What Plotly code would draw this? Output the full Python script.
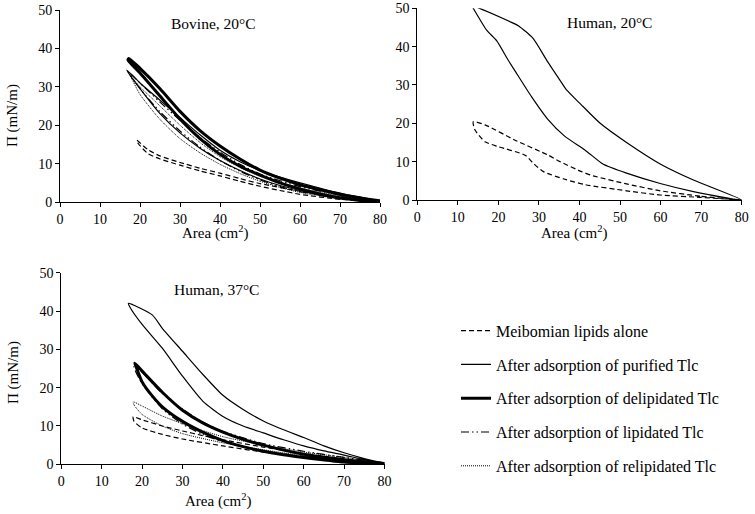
import plotly.graph_objects as go

W, H = 755, 514
FONT = "Liberation Serif, Times New Roman, Times, serif"

# ---------------- Data (area cm^2, surface pressure mN/m), each loop: compression then expansion
# Bovine, 20°C
BOV_MEIB_A = [80, 70, 60, 50, 45, 40, 35, 30, 25, 22, 19.2, 19.5, 22, 25, 30, 35, 40, 45, 50, 55, 60, 70, 80]
BOV_MEIB_P = [0.2, 1.2, 2.8, 4.8, 6.1, 7.5, 8.8, 10.3, 12.0, 13.6, 16.1, 15.3, 12.6, 11.2, 9.6, 8.1, 6.8, 5.4, 4.1, 3.0, 2.0, 0.7, 0.1]
BOV_PUR_A = [80, 70, 60, 55, 50, 45, 40, 35, 30, 25, 20, 16.7, 17, 20, 25, 30, 35, 40, 45, 50, 55, 60, 65, 70, 75, 80]
BOV_PUR_P = [0.3, 2.3, 5.0, 6.5, 8.2, 10.5, 13.5, 17.5, 22.0, 26.5, 31.0, 34.4, 33.8, 29.5, 23.0, 18.0, 14.0, 10.8, 8.2, 6.0, 4.3, 3.0, 1.8, 1.0, 0.4, 0.1]
BOV_DEL_A = [80, 72, 65, 60, 55, 50, 45, 40, 35, 30, 25, 20, 17.2, 17, 20, 25, 30, 35, 40, 45, 50, 55, 60, 65, 70, 75, 80]
BOV_DEL_P = [0.3, 1.6, 3.2, 4.5, 6.2, 8.3, 11.2, 14.6, 18.6, 23.6, 29.5, 34.8, 37.4, 37.0, 33.6, 27.6, 21.6, 16.5, 12.4, 9.3, 7.0, 5.0, 3.4, 2.1, 1.1, 0.4, 0.1]
BOV_LIP_A = [80, 70, 60, 50, 45, 40, 35, 30, 25, 20, 17.5, 18, 20, 25, 30, 35, 40, 45, 50, 55, 60, 70, 80]
BOV_LIP_P = [0.3, 1.8, 4.0, 7.3, 9.8, 13.0, 16.8, 21.3, 26.0, 31.0, 33.5, 32.5, 29.5, 23.5, 18.5, 14.3, 10.8, 8.0, 5.8, 4.0, 2.7, 0.9, 0.1]
BOV_REL_A = [80, 70, 60, 50, 45, 40, 35, 30, 25, 20, 17.5, 18, 20, 25, 30, 35, 40, 45, 50, 55, 60, 70, 80]
BOV_REL_P = [0.2, 1.5, 3.6, 6.7, 9.0, 11.8, 15.5, 20.0, 25.0, 30.0, 33.0, 32.0, 28.0, 21.5, 16.5, 12.8, 9.8, 7.4, 5.4, 3.8, 2.5, 0.8, 0.1]

# Human, 20°C
H20_MEIB_A = [80, 69.7, 59.9, 51.6, 43.4, 40.5, 35.2, 32.3, 24.1, 16.7, 13.8, 14.2, 16.7, 20.0, 26.6, 28.6, 31.1, 36.4, 41.4, 51.6, 59.9, 69.7, 80]
H20_MEIB_P = [0.0, 1.0, 2.4, 4.2, 6.3, 7.4, 10.0, 11.7, 15.6, 19.6, 20.4, 18.3, 15.2, 13.9, 11.7, 9.6, 7.4, 5.4, 4.0, 2.4, 1.3, 0.7, 0.0]
H20_PUR_A = [80, 68.1, 59.9, 51.6, 45.1, 40.1, 36.8, 35.2, 32.0, 28.5, 25.0, 22.9, 13.4,
             13.8, 17.1, 19.6, 22.4, 24.5, 28.2, 32.3, 36.4, 41.4, 45.9, 51.6, 59.9, 68.1, 80]
H20_PUR_P = [0.0, 5.2, 9.4, 15.0, 20.0, 25.2, 28.7, 31.2, 36.3, 42.2, 45.4, 46.5, 50.7,
             50.0, 44.3, 41.5, 36.5, 33.0, 26.9, 20.9, 16.6, 13.0, 9.3, 7.0, 4.3, 2.2, 0.0]

# Human, 37°C
H37_MEIB_A = [80, 70, 60, 50, 40, 35, 30, 25, 20, 17.8, 18, 20, 25, 30, 40, 50, 60, 70, 80]
H37_MEIB_P = [0.3, 1.4, 2.8, 4.5, 6.4, 7.5, 8.7, 10.0, 11.6, 12.4, 11.2, 9.5, 7.8, 6.6, 4.8, 3.2, 2.0, 0.8, 0.1]
H37_PUR_A = [80, 75, 70, 65, 60, 55, 50, 45, 40, 35, 30, 25, 22.5, 16.6, 17, 20, 25, 30, 35, 40, 45, 50, 55, 60, 65, 70, 75, 80]
H37_PUR_P = [0.3, 1.5, 3.0, 4.8, 7.0, 9.0, 11.3, 14.3, 18.0, 23.5, 29.5, 35.5, 39.0, 42.0, 41.0, 36.5, 30.3, 23.0, 16.5, 12.5, 10.0, 8.2, 6.4, 4.8, 3.5, 2.4, 1.2, 0.2]
H37_DEL_A = [80, 70, 60, 50, 45, 40, 35, 30, 25, 21, 18.2, 18.5, 20, 22, 25, 30, 35, 40, 45, 50, 55, 60, 70, 80]
H37_DEL_P = [0.2, 1.2, 2.6, 5.0, 6.5, 8.4, 10.8, 14.1, 18.8, 23.2, 26.4, 25.5, 21.5, 18.5, 15.0, 11.2, 8.4, 6.2, 4.6, 3.4, 2.5, 1.8, 0.6, 0.1]
H37_LIP_A = [80, 70, 60, 50, 40, 35, 30, 25, 20, 18, 18.3, 20, 25, 30, 35, 40, 50, 60, 70, 80]
H37_LIP_P = [0.4, 1.8, 3.4, 5.4, 8.6, 11.0, 14.4, 18.5, 24.0, 25.5, 24.5, 21.0, 14.5, 10.5, 7.8, 5.9, 3.5, 2.0, 0.9, 0.1]
H37_REL_A = [80, 70, 60, 50, 40, 35, 30, 25, 20, 17.8, 18, 20, 25, 30, 40, 50, 60, 70, 80]
H37_REL_P = [0.3, 1.8, 3.2, 5.0, 7.2, 8.8, 10.6, 12.6, 15.2, 16.3, 15.5, 13.0, 10.0, 8.0, 5.6, 3.8, 2.2, 0.9, 0.1]

SERIES_NAMES = ["Meibomian lipids alone", "After adsorption of purified Tlc",
                "After adsorption of delipidated Tlc", "After adsorption of lipidated Tlc",
                "After adsorption of relipidated Tlc"]
PANEL_TITLES = ["Bovine, 20°C", "Human, 20°C", "Human, 37°C"]
X_TITLE = "Area (cm<sup>2</sup>)"
Y_TITLE = "Π (mN/m)"
X_TICKS = [0, 10, 20, 30, 40, 50, 60, 70, 80]
Y_TICKS = [0, 10, 20, 30, 40, 50]

# ---------------- Styles
STYLE = {
    SERIES_NAMES[0]: dict(width=1.2, dash="5px,3px"),
    SERIES_NAMES[1]: dict(width=1.2, dash="solid"),
    SERIES_NAMES[2]: dict(width=3.0, dash="solid"),
    SERIES_NAMES[3]: dict(width=1.2, dash="8px,3px,1.5px,3px,1.5px,3px"),
    SERIES_NAMES[4]: dict(width=1.0, dash="1px,1px"),
}

fig = go.Figure()

panels = [
    ("x", "y", [(BOV_MEIB_A, BOV_MEIB_P, 0), (BOV_REL_A, BOV_REL_P, 4), (BOV_LIP_A, BOV_LIP_P, 3),
                (BOV_PUR_A, BOV_PUR_P, 1), (BOV_DEL_A, BOV_DEL_P, 2)]),
    ("x2", "y2", [(H20_MEIB_A, H20_MEIB_P, 0), (H20_PUR_A, H20_PUR_P, 1)]),
    ("x3", "y3", [(H37_MEIB_A, H37_MEIB_P, 0), (H37_REL_A, H37_REL_P, 4), (H37_LIP_A, H37_LIP_P, 3),
                  (H37_PUR_A, H37_PUR_P, 1), (H37_DEL_A, H37_DEL_P, 2)]),
]

for xa, ya, curves in panels:
    for a, p, si in curves:
        name = SERIES_NAMES[si]
        fig.add_trace(go.Scatter(
            x=a, y=p, mode="lines", name=name, xaxis=xa, yaxis=ya,
            line=dict(color="black", shape="spline", smoothing=0.6, **STYLE[name]),
            legendgroup=name, legendrank=si + 1,
            showlegend=(xa == "x"), hoverinfo="skip"))

def px_to_x(px):
    return px / W

def py_to_y(py):
    return 1 - py / H

domains = [
    ((60, 380), (202, 10)),
    ((417.3, 741.7), (200, 8.3)),
    ((61.3, 384.5), (464.3, 272.7)),
]

axis_common = dict(range=[0, 80], showline=True, linecolor="black", linewidth=1,
                   ticks="outside", ticklen=4, tickcolor="black", tickwidth=1,
                   showgrid=False, zeroline=False, tickvals=X_TICKS, automargin=False,
                   ticklabeloverflow="allow",
                   tickfont=dict(family=FONT, size=14, color="black"))
yaxis_common = dict(range=[0, 50], showline=True, linecolor="black", linewidth=1,
                    ticks="outside", ticklen=4, tickcolor="black", tickwidth=1,
                    showgrid=False, zeroline=False, tickvals=Y_TICKS, automargin=False,
                    ticklabeloverflow="allow",
                    tickfont=dict(family=FONT, size=14, color="black"))

layout = {}
for i, ((x0, x1), (yb, yt)) in enumerate(domains):
    sx = "" if i == 0 else str(i + 1)
    layout["xaxis" + sx] = dict(axis_common, domain=[px_to_x(x0), px_to_x(x1)], anchor="y" + sx)
    layout["yaxis" + sx] = dict(yaxis_common, domain=[py_to_y(yb), py_to_y(yt)], anchor="x" + sx)
fig.update_layout(**layout)

# panel titles (in data coordinates of each panel)
title_pos = [(38.3, 46.4, "x", "y"), (47.5, 46.2, "x2", "y2"), (38.5, 45.5, "x3", "y3")]
for (tx, ty, xr, yr), t in zip(title_pos, PANEL_TITLES):
    fig.add_annotation(x=tx, y=ty, xref=xr, yref=yr, text=t, showarrow=False,
                       font=dict(family=FONT, size=15.5, color="black"))

# axis titles
xtitle_px = [(215, 233), (574, 233), (218, 500)]
for (cx, cy) in xtitle_px:
    fig.add_annotation(x=px_to_x(cx), y=py_to_y(cy), xref="paper", yref="paper", text=X_TITLE,
                       showarrow=False, xanchor="center", yanchor="middle",
                       font=dict(family=FONT, size=15, color="black"))
ytitle_px = [(13, 116), (13, 373)]
for (cx, cy) in ytitle_px:
    fig.add_annotation(x=px_to_x(cx), y=py_to_y(cy), xref="paper", yref="paper", text=Y_TITLE,
                       showarrow=False, textangle=-90, xanchor="center", yanchor="middle",
                       font=dict(family=FONT, size=15, color="black"))

fig.update_layout(
    width=W, height=H, margin=dict(l=0, r=0, t=0, b=0, autoexpand=False),
    paper_bgcolor="white", plot_bgcolor="white",
    font=dict(family=FONT, color="black"),
    showlegend=True,
    legend=dict(x=456 / W, y=1 - 313.7 / H, xanchor="left", yanchor="top",
                font=dict(family=FONT, size=16, color="black"),
                tracegroupgap=10, traceorder="grouped", bgcolor="rgba(0,0,0,0)"),
)

fig.write_html("out.html", config={"displayModeBar": False},
               post_script="document.body.style.margin='0px';")
